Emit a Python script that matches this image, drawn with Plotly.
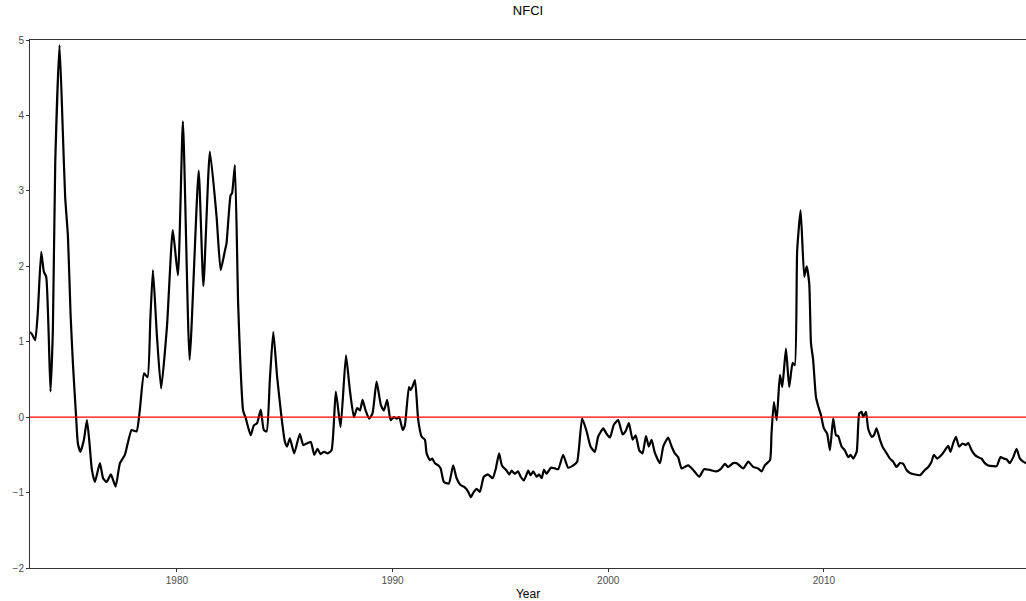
import plotly.graph_objects as go

# NFCI values (decimal year, index value)
years = [
    1973.19, 1973.28, 1973.43, 1973.55, 1973.71, 1973.83, 1973.94, 1974.05, 1974.14, 1974.25,
    1974.36, 1974.56, 1974.71, 1974.82, 1974.95, 1975.07, 1975.18, 1975.33, 1975.41, 1975.53,
    1975.69, 1975.83, 1975.95, 1976.06, 1976.20, 1976.43, 1976.58, 1976.74, 1976.94, 1977.16,
    1977.36, 1977.59, 1977.90, 1978.13, 1978.28, 1978.48, 1978.64, 1978.77, 1978.89, 1979.07,
    1979.27, 1979.54, 1979.81, 1980.05, 1980.28, 1980.59, 1981.01, 1981.23, 1981.53, 1981.84,
    1982.03, 1982.23, 1982.30, 1982.49, 1982.56, 1982.69, 1982.84, 1982.95, 1983.07, 1983.20,
    1983.42, 1983.57, 1983.72, 1983.89, 1984.03, 1984.16, 1984.31, 1984.47, 1984.65, 1984.85,
    1985.01, 1985.11, 1985.24, 1985.44, 1985.70, 1985.86, 1986.01, 1986.21, 1986.37, 1986.52,
    1986.66, 1986.82, 1986.99, 1987.17, 1987.37, 1987.59, 1987.84, 1988.02, 1988.21, 1988.36,
    1988.49, 1988.61, 1988.75, 1988.92, 1989.07, 1989.26, 1989.46, 1989.60, 1989.75, 1989.91,
    1990.06, 1990.19, 1990.31, 1990.47, 1990.57, 1990.76, 1990.84, 1990.93, 1991.04, 1991.19,
    1991.35, 1991.50, 1991.58, 1991.73, 1991.84, 1991.96, 1992.12, 1992.23, 1992.38, 1992.61,
    1992.81, 1992.97, 1993.15, 1993.35, 1993.51, 1993.63, 1993.77, 1993.90, 1994.05, 1994.23,
    1994.43, 1994.64, 1994.79, 1994.94, 1995.07, 1995.29, 1995.41, 1995.52, 1995.67, 1995.82,
    1995.94, 1996.09, 1996.29, 1996.40, 1996.52, 1996.68, 1996.80, 1996.91, 1997.02, 1997.14,
    1997.34, 1997.53, 1997.68, 1997.91, 1998.14, 1998.38, 1998.56, 1998.79, 1999.00, 1999.18,
    1999.38, 1999.53, 1999.77, 1999.92, 2000.08, 2000.26, 2000.46, 2000.67, 2000.80, 2000.96,
    2001.13, 2001.27, 2001.44, 2001.59, 2001.75, 2001.88, 2002.01, 2002.16, 2002.40, 2002.55,
    2002.78, 2002.94, 2003.09, 2003.24, 2003.40, 2003.55, 2003.71, 2003.94, 2004.22, 2004.44,
    2004.71, 2005.02, 2005.21, 2005.41, 2005.56, 2005.79, 2005.95, 2006.26, 2006.49, 2006.72,
    2006.95, 2007.11, 2007.26, 2007.50, 2007.57, 2007.68, 2007.81, 2007.96, 2008.07, 2008.24,
    2008.39, 2008.55, 2008.65, 2008.76, 2008.92, 2009.09, 2009.20, 2009.32, 2009.40, 2009.50,
    2009.63, 2009.74, 2009.86, 2010.00, 2010.15, 2010.28, 2010.43, 2010.56, 2010.66, 2010.82,
    2010.97, 2011.13, 2011.24, 2011.36, 2011.52, 2011.64, 2011.75, 2011.82, 2011.95, 2012.05,
    2012.21, 2012.32, 2012.44, 2012.60, 2012.75, 2012.91, 2013.06, 2013.21, 2013.37, 2013.52,
    2013.68, 2013.83, 2013.99, 2014.22, 2014.45, 2014.68, 2014.84, 2014.99, 2015.10, 2015.25,
    2015.46, 2015.61, 2015.76, 2015.87, 2015.99, 2016.12, 2016.27, 2016.43, 2016.58, 2016.69,
    2016.85, 2017.00, 2017.15, 2017.31, 2017.46, 2017.62, 2017.85, 2018.01, 2018.19, 2018.35,
    2018.47, 2018.62, 2018.78, 2018.93, 2019.09, 2019.24, 2019.37,
]
nfci = [
    1.13, 1.10, 1.02, 1.38, 2.19, 1.93, 1.86, 1.15, 0.34, 1.15,
    3.36, 4.93, 3.80, 2.92, 2.39, 1.37, 0.71, -0.01, -0.35, -0.46,
    -0.30, -0.04, -0.35, -0.70, -0.86, -0.61, -0.81, -0.86, -0.76, -0.92,
    -0.61, -0.50, -0.17, -0.19, 0.09, 0.58, 0.53, 1.30, 1.95, 1.10,
    0.38, 1.20, 2.48, 1.88, 3.92, 0.76, 3.27, 1.74, 3.52, 2.66,
    1.95, 2.21, 2.30, 2.94, 2.97, 3.34, 1.51, 0.67, 0.09, -0.02,
    -0.24, -0.11, -0.08, 0.10, -0.17, -0.19, 0.49, 1.13, 0.53, 0.00,
    -0.33, -0.39, -0.28, -0.48, -0.22, -0.37, -0.35, -0.33, -0.50, -0.42,
    -0.49, -0.46, -0.48, -0.44, 0.34, -0.13, 0.82, 0.36, 0.00, 0.12,
    0.09, 0.23, 0.09, -0.02, 0.05, 0.47, 0.16, 0.09, 0.23, -0.04,
    0.00, -0.02, 0.00, -0.17, -0.11, 0.40, 0.36, 0.41, 0.49, -0.04,
    -0.26, -0.30, -0.48, -0.57, -0.55, -0.61, -0.64, -0.68, -0.86, -0.88,
    -0.64, -0.81, -0.90, -0.93, -0.99, -1.06, -0.99, -0.95, -0.99, -0.79,
    -0.76, -0.81, -0.68, -0.48, -0.64, -0.71, -0.76, -0.71, -0.75, -0.72,
    -0.79, -0.84, -0.71, -0.77, -0.72, -0.79, -0.76, -0.81, -0.70, -0.75,
    -0.67, -0.68, -0.69, -0.50, -0.67, -0.64, -0.59, -0.02, -0.19, -0.39,
    -0.46, -0.26, -0.15, -0.22, -0.27, -0.10, -0.04, -0.23, -0.19, -0.08,
    -0.30, -0.24, -0.44, -0.48, -0.25, -0.39, -0.30, -0.47, -0.61, -0.39,
    -0.27, -0.39, -0.48, -0.53, -0.68, -0.66, -0.64, -0.70, -0.79, -0.69,
    -0.70, -0.72, -0.69, -0.62, -0.66, -0.61, -0.61, -0.68, -0.59, -0.66,
    -0.68, -0.72, -0.64, -0.57, -0.22, 0.20, -0.04, 0.56, 0.40, 0.91,
    0.40, 0.72, 0.69, 2.21, 2.74, 1.86, 2.00, 1.77, 0.98, 0.76,
    0.27, 0.14, 0.03, -0.15, -0.22, -0.44, -0.02, -0.24, -0.25, -0.39,
    -0.44, -0.53, -0.50, -0.55, -0.46, 0.05, 0.07, 0.00, 0.07, -0.15,
    -0.26, -0.24, -0.15, -0.30, -0.41, -0.48, -0.55, -0.59, -0.66, -0.61,
    -0.62, -0.70, -0.74, -0.76, -0.77, -0.70, -0.66, -0.59, -0.50, -0.55,
    -0.50, -0.44, -0.38, -0.46, -0.35, -0.26, -0.39, -0.35, -0.37, -0.34,
    -0.44, -0.50, -0.53, -0.55, -0.61, -0.64, -0.65, -0.65, -0.53, -0.55,
    -0.56, -0.61, -0.53, -0.42, -0.55, -0.59, -0.61,
]
x_ticks = [1980, 1990, 2000, 2010]
y_ticks = [-2, -1, 0, 1, 2, 3, 4, 5]
ref_level = 0

x_range = [years[0], years[-1]]

fig = go.Figure()
fig.add_trace(go.Scatter(
    x=years, y=nfci, mode="lines",
    line=dict(color="black", width=2.2, shape="spline", smoothing=0.5),
    hoverinfo="x+y", showlegend=False,
))
fig.add_trace(go.Scatter(
    x=x_range, y=[ref_level, ref_level], mode="lines",
    line=dict(color="#ff0000", width=1.2),
    hoverinfo="skip", showlegend=False,
))

axis_font = dict(family="Liberation Sans, Arial, sans-serif", size=10, color="#4d4d4d")
fig.update_layout(
    width=1026, height=601,
    margin=dict(l=30, r=0, t=40, b=33),
    paper_bgcolor="white", plot_bgcolor="white",
    font=dict(family="Liberation Sans, Arial, sans-serif", color="black"),
    title=dict(text="NFCI", x=0.5, xref="paper", y=1 - 10 / 601, yref="container",
               xanchor="center", yanchor="middle",
               font=dict(size=13, color="black")),
    xaxis=dict(
        range=x_range, tickvals=x_ticks, ticktext=[str(t) for t in x_ticks],
        showgrid=False, zeroline=False,
        showline=True, linecolor="#333333", linewidth=1, mirror=True,
        ticks="outside", ticklen=3, tickcolor="#333333", tickwidth=1,
        tickfont=axis_font,
        title=dict(text="Year", font=dict(size=12, color="black"), standoff=4),
    ),
    yaxis=dict(
        range=[-2, 5], tickvals=y_ticks,
        ticktext=[("\u2212" + str(-t)) if t < 0 else str(t) for t in y_ticks],
        showgrid=False, zeroline=False,
        showline=True, linecolor="#333333", linewidth=1,
        ticks="outside", ticklen=3, tickcolor="#333333", tickwidth=1,
        tickfont=axis_font,
    ),
)

fig.write_html(
    "out.html",
    config={"displayModeBar": False},
    post_script="document.body.style.margin='0';document.body.style.overflow='hidden';",
)
